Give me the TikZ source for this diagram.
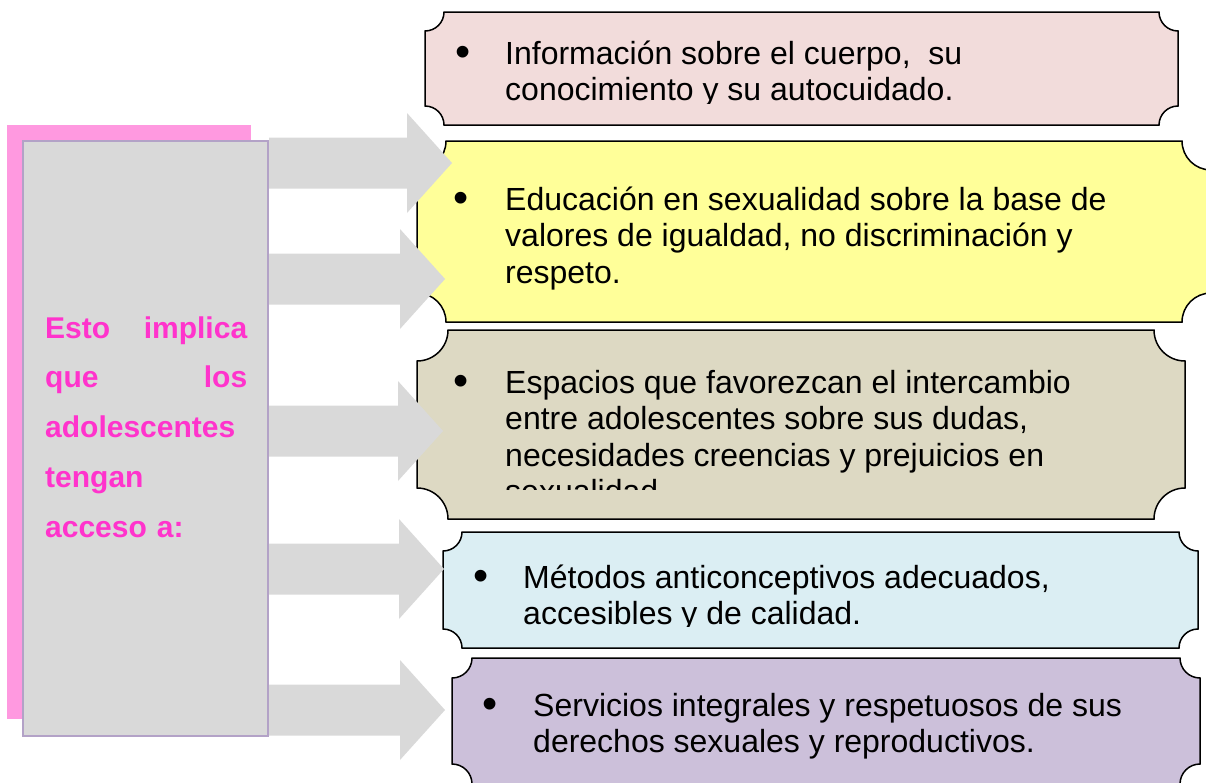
\documentclass[tikz,border=0pt]{standalone}
\usepackage{fontspec}
\setmainfont{Liberation Sans}

\definecolor{leadpink}{HTML}{FF99E0}
\definecolor{leadgray}{HTML}{D9D9D9}
\definecolor{leadline}{HTML}{B3A2C7}
\definecolor{leadink}{HTML}{FF33CC}
\definecolor{arrowgray}{HTML}{D9D9D9}
\definecolor{infofill}{HTML}{F2DCDB}
\definecolor{educfill}{HTML}{FFFF99}
\definecolor{espfill}{HTML}{DDD9C3}
\definecolor{metfill}{HTML}{DBEEF3}
\definecolor{servfill}{HTML}{CCC0DA}

% plaque with hollow corners: fill, x0, y0, x1, y1, corner radius
\newcommand{\plaque}[6]{%
  \filldraw[plaque, fill=#1]
    (#2+#6,#3) -- (#4-#6,#3)
    .. controls (#4-#6,#3+0.5523*#6) and (#4-0.5523*#6,#3+#6) .. (#4,#3+#6)
    -- (#4,#5-#6)
    .. controls (#4-0.5523*#6,#5-#6) and (#4-#6,#5-0.5523*#6) .. (#4-#6,#5)
    -- (#2+#6,#5)
    .. controls (#2+#6,#5-0.5523*#6) and (#2+0.5523*#6,#5-#6) .. (#2,#5-#6)
    -- (#2,#3+#6)
    .. controls (#2+0.5523*#6,#3+#6) and (#2+#6,#3+0.5523*#6) .. (#2+#6,#3)
    -- cycle;}
\newcommand{\dotlead}[1]{\llap{\raisebox{-2.5pt}{\scalebox{1.35}{\textbullet}}\hspace{#1}}}

\begin{document}
\begin{tikzpicture}[x=1pt, y=-1pt,
  plaque/.style={draw=black, line width=1.5pt},
  leadbox/.style={draw=leadline, fill=leadgray, line width=2pt, minimum width=245pt, minimum height=595pt, inner sep=0pt},
  leadtext/.style={anchor=north west, inner sep=0pt, text width=202pt, align=left, text=leadink, font=\fontsize{30}{49.75}\selectfont\bfseries},
  itemtext/.style={anchor=north west, inner sep=0pt, align=left, font=\fontsize{32}{36.5}\selectfont}]
\useasboundingbox (0,0) rectangle (1206,782);

% --- left block ---
\fill[leadpink] (7,125) rectangle (251,719);
\node[leadbox] (lead_box) at (145.5,438.5) {};
\node[leadtext] (lead_text) at (45,303.2) {\strut Esto\hfill implica\\que\hfill los\\adolescentes\\tengan\\acceso a:};

% --- plaques ---
\plaque{infofill}{425}{12}{1178}{125}{19}
\plaque{educfill}{417}{141}{1211}{322}{29}
\plaque{espfill}{417}{330}{1185}{519}{31}
\plaque{metfill}{443}{532}{1198}{648}{19}
\plaque{servfill}{452}{658}{1200}{784}{20}

% --- arrows ---
\coordinate (lead_edge) at (lead_box.east);
\foreach \y/\tip in {163/452, 279/445, 431/443, 569/444, 710/445}
  \fill[arrowgray] (lead_edge |- 0,\y-25.5) -- (\tip-45,\y-25.5) -- (\tip-45,\y-50) -- (\tip,\y)
    -- (\tip-45,\y+50) -- (\tip-45,\y+25.5) -- (lead_edge |- 0,\y+25.5) -- cycle;

% --- item texts ---
\begin{scope}
  \clip (0,0) rectangle (1206,103.5);
  \node[itemtext] (item_info) at (505,38.45) {\strut\dotlead{34.4pt}Información sobre el cuerpo,\ \ su\\conocimiento y su autocuidado.};
\end{scope}
\node[itemtext] (item_educ) at (505,184.45) {\strut\dotlead{36.4pt}Educación en sexualidad sobre la base de\\valores de igualdad, no discriminación y\\respeto.};
\begin{scope}
  \clip (0,330) rectangle (1206,489);
  \node[itemtext] (item_esp) at (505,367.45) {\strut\dotlead{36.4pt}Espacios que favorezcan el intercambio\\entre adolescentes sobre sus dudas,\\necesidades creencias y prejuicios en\\sexualidad};
\end{scope}
\begin{scope}
  \clip (0,532) rectangle (1206,626);
  \node[itemtext] (item_met) at (523,562.45) {\strut\dotlead{34.4pt}Métodos anticonceptivos adecuados,\\accesibles y de calidad.};
\end{scope}
\node[itemtext] (item_serv) at (533,690.45) {\strut\dotlead{35.4pt}Servicios integrales y respetuosos de sus\\derechos sexuales y reproductivos.};

\end{tikzpicture}
\end{document}
